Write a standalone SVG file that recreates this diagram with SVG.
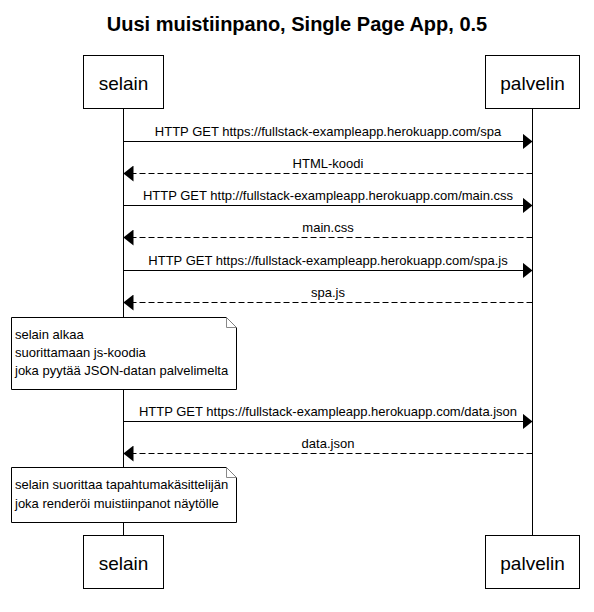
<svg xmlns="http://www.w3.org/2000/svg" width="594" height="612" viewBox="0 0 594 612">
<style>
text{font-family:"Liberation Sans",Arial,sans-serif;fill:#000}
.title{font-size:20px;font-weight:bold;text-anchor:middle}
.actor rect{fill:#fff;stroke:#000;stroke-width:1}
.actor text{font-size:19px;text-anchor:middle}
.life{stroke:#000;stroke-width:1;fill:none}
.msg{stroke:#000;stroke-width:1;fill:none}
.dash{stroke-dasharray:6,3}
.lbl{font-size:13px;text-anchor:middle}
.note path{fill:#fff;stroke:#000;stroke-width:1}
.note .fold{fill:#fff;stroke:#888}
.note text{font-size:13px}
</style>
<defs>
<marker id="ah" viewBox="0 0 10 16" refX="10" refY="8" markerWidth="10" markerHeight="16" markerUnits="userSpaceOnUse" orient="auto">
<path d="M0,0 L10,8 L0,16 Z" fill="#000"/>
</marker>
</defs>
<text class="title" x="297" y="31">Uusi muistiinpano, Single Page App, 0.5</text>
<g id="lifelines">
<line class="life" x1="123.5" y1="108.5" x2="123.5" y2="535.5"/>
<line class="life" x1="532.5" y1="108.5" x2="532.5" y2="535.5"/>
</g>
<g id="selain-top" class="actor"><rect x="83.5" y="55.5" width="80" height="53"/><text x="123.5" y="90">selain</text></g>
<g id="palvelin-top" class="actor"><rect x="485.5" y="55.5" width="94" height="53"/><text x="532.5" y="90">palvelin</text></g>
<g id="selain-bottom" class="actor"><rect x="83.5" y="535.5" width="80" height="53"/><text x="123.5" y="570">selain</text></g>
<g id="palvelin-bottom" class="actor"><rect x="485.5" y="535.5" width="94" height="53"/><text x="532.5" y="570">palvelin</text></g>
<g id="connectors">
<line class="msg" x1="123.5" y1="141.5" x2="532.5" y2="141.5" marker-end="url(#ah)"/>
<text class="lbl" x="328" y="136">HTTP GET https://fullstack-exampleapp.herokuapp.com/spa</text>
<line class="msg dash" x1="532.5" y1="173.5" x2="123.5" y2="173.5" marker-end="url(#ah)"/>
<text class="lbl" x="328" y="168">HTML-koodi</text>
<line class="msg" x1="123.5" y1="205.5" x2="532.5" y2="205.5" marker-end="url(#ah)"/>
<text class="lbl" x="328" y="200">HTTP GET http://fullstack-exampleapp.herokuapp.com/main.css</text>
<line class="msg dash" x1="532.5" y1="237.5" x2="123.5" y2="237.5" marker-end="url(#ah)"/>
<text class="lbl" x="328" y="232">main.css</text>
<line class="msg" x1="123.5" y1="270.5" x2="532.5" y2="270.5" marker-end="url(#ah)"/>
<text class="lbl" x="328" y="265">HTTP GET https://fullstack-exampleapp.herokuapp.com/spa.js</text>
<line class="msg dash" x1="532.5" y1="302.5" x2="123.5" y2="302.5" marker-end="url(#ah)"/>
<text class="lbl" x="328" y="297">spa.js</text>
<line class="msg" x1="123.5" y1="421.5" x2="532.5" y2="421.5" marker-end="url(#ah)"/>
<text class="lbl" x="328" y="416">HTTP GET https://fullstack-exampleapp.herokuapp.com/data.json</text>
<line class="msg dash" x1="532.5" y1="453.5" x2="123.5" y2="453.5" marker-end="url(#ah)"/>
<text class="lbl" x="328" y="448">data.json</text>
</g>
<g id="note1" class="note">
<path d="M11.5,317.5 H226.5 L236.5,327.5 V389.5 H11.5 Z"/>
<path class="fold" d="M226.5,317.5 V327.5 H236.5"/>
<text x="15" y="339">selain alkaa</text>
<text x="15" y="357">suorittamaan js-koodia</text>
<text x="15" y="375">joka pyytää JSON-datan palvelimelta</text>
</g>
<g id="note2" class="note">
<path d="M11.5,467.5 H226.5 L236.5,477.5 V522.5 H11.5 Z"/>
<path class="fold" d="M226.5,467.5 V477.5 H236.5"/>
<text x="15" y="489">selain suorittaa tapahtumakäsittelijän</text>
<text x="15" y="508">joka renderöi muistiinpanot näytölle</text>
</g>
</svg>
